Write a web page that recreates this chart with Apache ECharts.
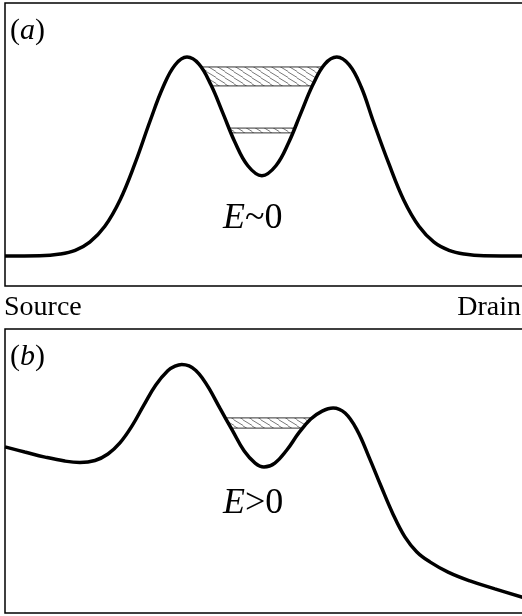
<!DOCTYPE html>
<html>
<head>
<meta charset="utf-8">
<script src="https://cdn.jsdelivr.net/npm/echarts@6/dist/echarts.min.js"></script>
<style>
  html, body { margin: 0; padding: 0; background: #fff; overflow: hidden; }
  #chart { width: 522px; height: 616px; }
</style>
</head>
<body>
<div id="chart"></div>
<script>
// Potential profile along the channel (position 0..100, energy 0..100)
var profileA = [
  [0, 10.6], [6.7, 10.7], [10.6, 11.3], [13.5, 12.6], [16.3, 15.5], [19.2, 21.1],
  [22.1, 30.3], [25.0, 43.3], [27.9, 58.3], [30.4, 70.3], [32.7, 78.1], [35.0, 80.9],
  [37.3, 78.4], [39.6, 71.1], [41.9, 61.1], [44.2, 50.9], [46.7, 42.5], [49.4, 39.0],
  [52.1, 42.5], [54.6, 50.9], [56.9, 61.1], [59.2, 71.1], [61.5, 78.4], [63.8, 80.9],
  [66.2, 78.1], [68.5, 70.3], [70.8, 58.3], [73.8, 43.3], [76.7, 30.3], [79.6, 21.1],
  [82.5, 15.5], [85.4, 12.6], [88.3, 11.3], [92.1, 10.7], [100, 10.6]
];
var profileB = [
  [0, 58.5], [3.8, 56.7], [7.7, 54.9], [11.5, 53.5], [14.4, 53.0], [17.3, 53.7],
  [19.8, 56.0], [22.1, 59.9], [24.4, 65.8], [26.7, 73.2], [29.0, 80.3], [31.3, 85.3],
  [32.7, 86.9], [34.0, 87.5], [35.4, 87.0], [36.7, 85.4], [38.0, 82.6], [39.3, 78.9],
  [41.3, 72.2], [43.7, 64.4], [46.0, 57.0],
  [48.1, 52.8], [49.8, 51.4], [51.9, 52.8], [54.2, 57.4], [56.5, 63.4], [58.8, 68.3],
  [61.0, 71.1], [63.1, 72.2], [65.4, 70.4], [67.7, 64.4], [70.0, 54.9], [72.3, 44.7],
  [74.6, 34.9], [76.9, 26.8], [79.2, 21.5], [81.7, 18.0], [85.2, 14.4], [89.4, 11.3],
  [94.2, 8.5], [100, 5.3]
];
// Quasi-bound levels in the dot: [upper edge, lower edge]
var levelsA = [[77.4, 70.7], [55.8, 54.1]];
var levelsB = [[68.7, 65.1]];

var panelLabels = ['a', 'b'];
var energyLabels = ['~0', '>0'];
var leadLabels = ['Source', 'Drain'];

var FONT = '"Liberation Serif", "Times New Roman", serif';

// diagonal hatch tile
var hatch = document.createElement('canvas');
hatch.width = 9; hatch.height = 6;
(function () {
  var g = hatch.getContext('2d');
  g.strokeStyle = '#555';
  g.lineWidth = 0.8;
  var s = 6 / 9;
  for (var k = -1; k <= 1; k++) {
    g.beginPath();
    g.moveTo(-1, -s + 6 * k);
    g.lineTo(10, 10 * s - s + 6 * k);
    g.stroke();
  }
})();

// x where a level meets the walls of the well between the two barriers
function wallCrossings(curve, level) {
  var peaks = [];
  for (var i = 1; i < curve.length - 1; i++) {
    if (curve[i][1] > curve[i - 1][1] && curve[i][1] >= curve[i + 1][1]) peaks.push(i);
  }
  var a = peaks[0], b = peaks[peaks.length - 1];
  var v = a;
  for (i = a; i <= b; i++) if (curve[i][1] < curve[v][1]) v = i;
  function lerp(p, q) {
    return p[0] + (level - p[1]) * (q[0] - p[0]) / (q[1] - p[1]);
  }
  var l = v; while (curve[l - 1][1] < level) l--;
  var r = v; while (curve[r + 1][1] < level) r++;
  return [lerp(curve[l - 1], curve[l]), lerp(curve[r], curve[r + 1])];
}

function bandRenderer(curve) {
  return function (params, api) {
    var top = api.value(0), bot = api.value(1);
    var t = wallCrossings(curve, top), b = wallCrossings(curve, bot);
    var p1 = api.coord([t[0], top]), p2 = api.coord([t[1], top]);
    var p3 = api.coord([b[1], bot]), p4 = api.coord([b[0], bot]);
    return {
      type: 'group',
      children: [
        { type: 'polygon', shape: { points: [p1, p2, p3, p4] },
          style: { fill: { image: hatch, repeat: 'repeat' }, stroke: null } },
        { type: 'line', shape: { x1: p1[0], y1: p1[1], x2: p2[0], y2: p2[1] },
          style: { stroke: '#333', lineWidth: 1 } },
        { type: 'line', shape: { x1: p4[0], y1: p4[1], x2: p3[0], y2: p3[1] },
          style: { stroke: '#333', lineWidth: 1 } }
      ]
    };
  };
}

function panelText(letter) {
  return '{n|(}{i|' + letter + '}{n|)}';
}
function energyText(tail) {
  return '{ei|E}{en|' + tail + '}';
}
var rich = {
  n: { fontFamily: FONT, fontSize: 30, fill: '#000', color: '#000' },
  i: { fontFamily: FONT, fontSize: 30, fontStyle: 'italic', fill: '#000', color: '#000' },
  en: { fontFamily: FONT, fontSize: 36, fill: '#000', color: '#000' },
  ei: { fontFamily: FONT, fontSize: 36, fontStyle: 'italic', fill: '#000', color: '#000' }
};

var chart = echarts.init(document.getElementById('chart'), null, { renderer: 'canvas' });

var axisX = { type: 'value', min: 0, max: 100, show: false };
var axisY = { type: 'value', min: 0, max: 100, show: false };

chart.setOption({
  animation: false,
  backgroundColor: '#fff',
  grid: [
    { left: 5, top: 3, width: 520, height: 283, show: true, borderColor: '#000', borderWidth: 1.5,
      outerBoundsMode: 'none' },
    { left: 5, top: 329, width: 520, height: 284, show: true, borderColor: '#000', borderWidth: 1.5,
      outerBoundsMode: 'none' }
  ],
  xAxis: [Object.assign({ gridIndex: 0 }, axisX), Object.assign({ gridIndex: 1 }, axisX)],
  yAxis: [Object.assign({ gridIndex: 0 }, axisY), Object.assign({ gridIndex: 1 }, axisY)],
  series: [
    { type: 'custom', xAxisIndex: 0, yAxisIndex: 0, data: levelsA,
      renderItem: bandRenderer(profileA), z: 1, silent: true },
    { type: 'custom', xAxisIndex: 1, yAxisIndex: 1, data: levelsB,
      renderItem: bandRenderer(profileB), z: 1, silent: true },
    { type: 'line', xAxisIndex: 0, yAxisIndex: 0, data: profileA, smooth: 0.4,
      showSymbol: false, lineStyle: { color: '#000', width: 3.5 }, z: 3, silent: true },
    { type: 'line', xAxisIndex: 1, yAxisIndex: 1, data: profileB, smooth: 0.4,
      showSymbol: false, lineStyle: { color: '#000', width: 3.5 }, z: 3, silent: true }
  ],
  graphic: [
    { type: 'text', left: 10, top: 16, style: { text: panelText(panelLabels[0]), rich: rich } },
    { type: 'text', left: 10, top: 342, style: { text: panelText(panelLabels[1]), rich: rich } },
    { type: 'text', left: 223, top: 201, style: { text: energyText(energyLabels[0]), rich: rich } },
    { type: 'text', left: 223, top: 486, style: { text: energyText(energyLabels[1]), rich: rich } },
    { type: 'text', left: 4, top: 294, style: { text: leadLabels[0], font: '28px ' + FONT, fill: '#000' } },
    { type: 'text', right: 1, top: 294, style: { text: leadLabels[1], font: '28px ' + FONT, fill: '#000' } }
  ]
});
</script>
</body>
</html>
